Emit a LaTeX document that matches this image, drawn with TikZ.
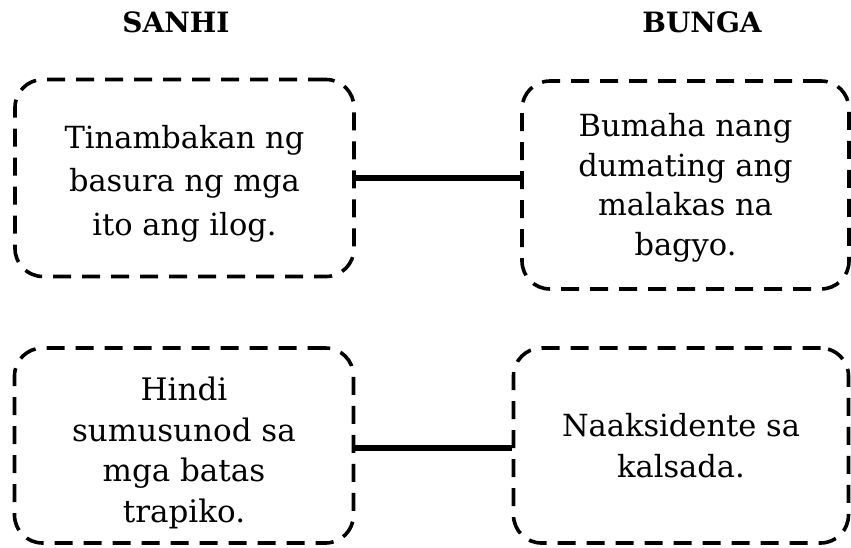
\documentclass[tikz,border=0pt]{standalone}
\usepackage{fontspec}
\setmainfont{DejaVu Serif}
\begin{document}
\begin{tikzpicture}[x=1pt,y=-1pt,
  box/.style={draw=black, line width=3.6pt, dash pattern=on 18pt off 11pt, rounded corners=28pt, inner sep=0pt},
  txt/.style={align=center, inner sep=0pt},
  head/.style={font=\fontsize{28}{30}\selectfont\bfseries, inner sep=0pt},
  link/.style={line width=6pt}]
\path[use as bounding box] (0,0) rectangle (851,547);
\node[head] (h1) at (176,22) {SANHI};
\node[head] (h2) at (702,22) {BUNGA};
\node[box, minimum width=339pt, minimum height=197pt] (b1) at (184.5,178) {};
\node[box, minimum width=327pt, minimum height=208pt] (b2) at (685.5,185) {};
\node[box, minimum width=339pt, minimum height=195pt] (b3) at (184,445.5) {};
\node[box, minimum width=335pt, minimum height=195pt] (b4) at (681,445.5) {};
\node[txt, font=\fontsize{30.5}{43.5}\selectfont] (t1) at ([yshift=-5.5pt]b1.center) {Tinambakan ng\\basura ng mga\\ito ang ilog.};
\node[txt, font=\fontsize{30.5}{39.5}\selectfont] (t2) at ([yshift=-3pt]b2.center) {Bumaha nang\\dumating ang\\malakas na\\bagyo.};
\node[txt, font=\fontsize{31}{40.7}\selectfont] (t3) at ([yshift=-7.5pt]b3.center) {Hindi\\sumusunod sa\\mga batas\\trapiko.};
\node[txt, font=\fontsize{30.5}{41}\selectfont] (t4) at ([yshift=-0.5pt]b4.center) {Naaksidente sa\\kalsada.};
\draw[link] (b1.east) -- (b1.east -| b2.west);
\draw[link] ([yshift=-2.5pt]b3.east) -- ([yshift=-2.5pt]b3.east -| b4.west);
\end{tikzpicture}
\end{document}
